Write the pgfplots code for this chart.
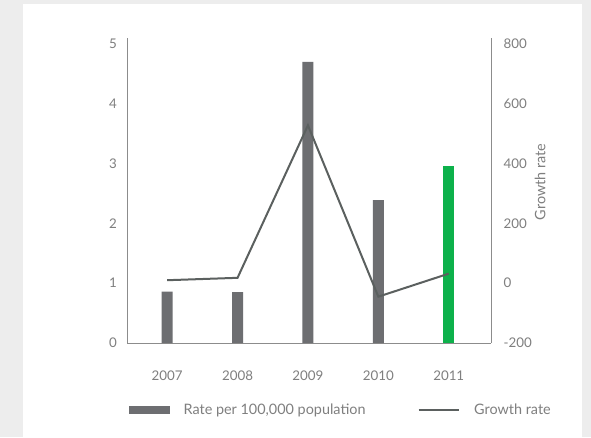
\documentclass[border=0pt]{standalone}
\usepackage{fontspec}
\setmainfont{Lato}
\usepackage{pgfplots}
\pgfplotsset{compat=1.18}
\definecolor{bgGray}{HTML}{EDEDED}
\definecolor{barGray}{HTML}{6D6E71}
\definecolor{barGreen}{HTML}{0DB14B}
\definecolor{lineGray}{HTML}{5B605F}
\definecolor{axGray}{HTML}{8C8C8C}
\definecolor{txtGray}{HTML}{7F7F7F}
\begin{document}
\begin{tikzpicture}[font=\fontsize{10}{12}\selectfont]
\fill[bgGray] (0,0) rectangle (443.25pt,327.75pt);
\fill[white] (17.25pt,0) rectangle (436.5pt,324.75pt);
\begin{axis}[
  at={(95.25pt,70.5pt)}, anchor=south west,
  scale only axis, width=273pt, height=228.75pt,
  xmin=-0.57, xmax=4.6, ymin=0, ymax=5.1,
  axis y line*=left, axis x line*=bottom,
  axis line style={axGray, line width=0.75pt, -},
  xtick={0,1,2,3,4}, xticklabels={2007,2008,2009,2010,2011},
  ytick={0,1,2,3,4,5},
  major tick length=0pt,
  /pgf/number format/assume math mode=true,
  tick label style={txtGray},
  xticklabel style={yshift=-17pt},
  yticklabel style={xshift=-4pt},
  ybar, bar width=8.25pt, bar shift=0pt,
]
\addplot[fill=barGray, draw=none] coordinates {(0,0.86) (1,0.85) (2,4.70) (3,2.39)};
\addplot[fill=barGreen, draw=none] coordinates {(4,2.96)};
\end{axis}
\begin{axis}[
  at={(95.25pt,70.5pt)}, anchor=south west,
  scale only axis, width=273pt, height=228.75pt,
  xmin=-0.57, xmax=4.6, ymin=-200, ymax=820,
  axis y line*=right, axis x line=none,
  axis line style={axGray, line width=0.75pt, -},
  ytick={-200,0,200,400,600,800},
  major tick length=0pt,
  /pgf/number format/assume math mode=true,
  tick label style={txtGray},
  yticklabel style={xshift=6pt},
  ylabel={Growth rate},
  ylabel style={txtGray, font=\fontsize{10.8}{13}\selectfont, at={(axis description cs:1.135,0.528)}, anchor=center, rotate=0},
  legend style={at={(axis description cs:0.005,-0.22)}, anchor=west, draw=none, fill=none,
    inner sep=0pt, legend columns=2, text=txtGray, font=\fontsize{10.8}{13}\selectfont,
    /tikz/every even column/.append style={column sep=39pt},
    nodes={inner sep=0pt, outer sep=0pt}},
  legend cell align=left,
]
\addlegendimage{legend image code/.code={\fill[barGray] (0pt,-2.6pt) rectangle (30pt,2.6pt); \path (40.5pt,0) circle (0pt);}}
\addlegendentry{Rate per 100,000 population}
\addplot[lineGray, line width=1.5pt, mark=none, legend image code/.code={\draw[lineGray, line width=1.5pt] (0pt,0) -- (30pt,0); \path (41pt,0) circle (0pt);}] coordinates {(0,10) (1,18) (2,528) (3,-45) (4,32)};
\addlegendentry{Growth rate}
\end{axis}
\end{tikzpicture}
\end{document}
